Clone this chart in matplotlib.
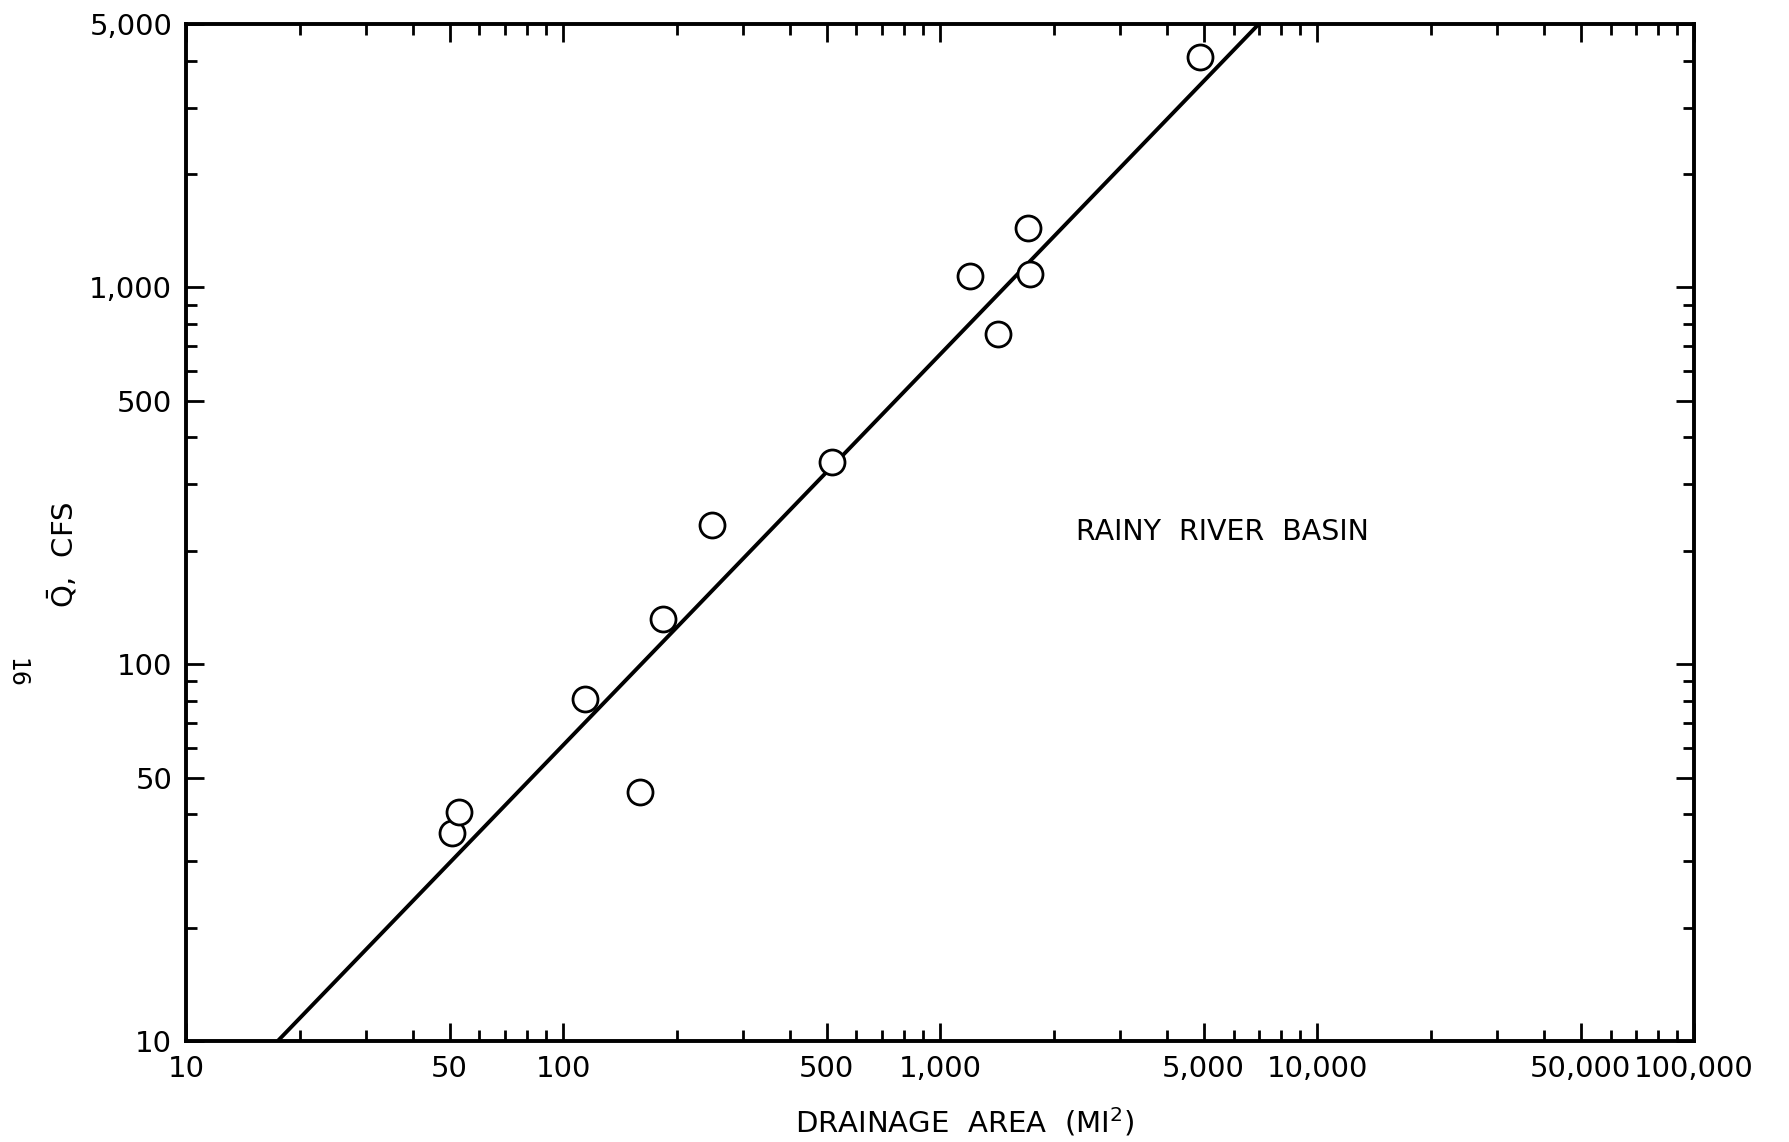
import matplotlib
matplotlib.use("Agg")
import matplotlib.pyplot as plt
from matplotlib.ticker import FixedLocator, NullFormatter

plt.rcParams["font.family"] = ["DejaVu Sans"]

# drainage area (sq mi) and mean flow (cfs)
area = [50.8, 53, 114, 160, 184, 249, 517, 1200, 1420, 1710, 1730, 4900]
flow = [35.7, 40.6, 81, 45.8, 132, 234, 344, 1075, 753, 1434, 1084, 4093]

# fitted line, end points where it meets the frame
line_area = [17.5, 7000]
line_flow = [10, 5000]

x_ticks = [10, 50, 100, 500, 1000, 5000, 10000, 50000, 100000]
x_labels = ["10", "50", "100", "500", "1,000", "5,000", "10,000", "50,000", "100,000"]
y_ticks = [10, 50, 100, 500, 1000, 5000]
y_labels = ["10", "50", "100", "500", "1,000", "5,000"]

fig = plt.figure(figsize=(17.89, 11.42), dpi=100)
ax = fig.add_axes([0.104, 0.0884, 0.843, 0.8905])

ax.plot(line_area, line_flow, color="black", lw=2.8)
ax.plot(area, flow, "o", ms=18, mfc="white", mec="black", mew=2.0)

ax.set_xscale("log")
ax.set_yscale("log")
ax.set_xlim(10, 100000)
ax.set_ylim(10, 5000)

minor_x = [m * 10 ** e for e in range(1, 5) for m in (2, 3, 4, 6, 7, 8, 9)]
minor_y = [m * 10 ** e for e in range(1, 4) for m in (2, 3, 4, 6, 7, 8, 9) if m * 10 ** e < 5000]
ax.xaxis.set_major_locator(FixedLocator(x_ticks))
ax.xaxis.set_minor_locator(FixedLocator(minor_x))
ax.yaxis.set_major_locator(FixedLocator(y_ticks))
ax.yaxis.set_minor_locator(FixedLocator(minor_y))
ax.set_xticklabels(x_labels)
ax.set_yticklabels(y_labels)
ax.xaxis.set_minor_formatter(NullFormatter())
ax.yaxis.set_minor_formatter(NullFormatter())

ax.tick_params(which="both", direction="in", top=True, right=True, width=2.0,
               labelsize=21, pad=10)
ax.tick_params(which="major", length=13)
ax.tick_params(which="minor", length=8)
for s in ax.spines.values():
    s.set_linewidth(2.8)

ax.text(5600, 225, "RAINY  RIVER  BASIN", fontsize=20.5, ha="center", va="center")

fig.text(0.539, 0.0175, r"DRAINAGE  AREA  (MI$^{2}$)", fontsize=21, ha="center", va="center")
fig.text(0.035, 0.514, r"$\bar{\mathrm{Q}}$,  CFS", fontsize=21, rotation=90,
         ha="center", va="center")
fig.text(0.009, 0.411, "16", fontsize=17, rotation=-90, ha="center", va="center")

fig.savefig("out.png", dpi=100)
